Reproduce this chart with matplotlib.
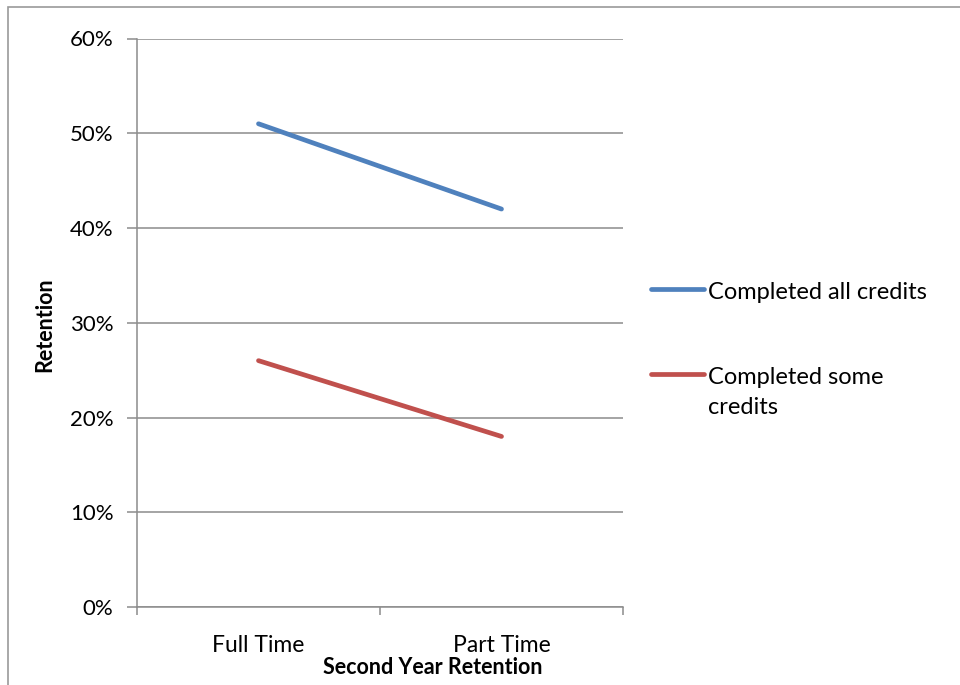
import matplotlib.pyplot as plt
from matplotlib.lines import Line2D
from matplotlib.patches import Rectangle
from matplotlib.ticker import FuncFormatter, FixedLocator

plt.rcParams['font.family'] = ['Lato', 'DejaVu Sans']

categories = ["Full Time", "Part Time"]
all_credits = [51, 42]
some_credits = [26, 18]
series_names = ["Completed all credits", "Completed some\ncredits"]
colors = ["#4F81BD", "#C0504D"]

W, H = 960, 685
fig = plt.figure(figsize=(W / 100, H / 100), dpi=100)

# outer chart frame
fig.add_artist(Rectangle((8 / W, -0.1), 1.2, 1 - 7 / H + 0.1, transform=fig.transFigure,
                         fill=False, edgecolor="#9a9a9a", linewidth=1.2))

ax = fig.add_axes([137 / W, 1 - 607 / H, (623 - 137) / W, (607 - 38.5) / H])

xpos = [0.5, 1.5]
for vals, c in zip([all_credits, some_credits], colors):
    ax.plot(xpos, vals, color=c, linewidth=3.4, solid_capstyle="round")

ax.set_xlim(0, 2)
ax.set_ylim(0, 60)
ax.set_yticks(range(0, 61, 10))
ax.yaxis.set_major_formatter(FuncFormatter(lambda v, p: f"{int(v)}%"))
ax.grid(axis="y", color="#8c8c8c", linewidth=1.1)
ax.set_axisbelow(True)

ax.set_xticks(xpos)
ax.set_xticklabels(categories)
ax.xaxis.set_minor_locator(FixedLocator([0, 1, 2]))
ax.tick_params(axis="x", which="major", length=0, pad=20, labelsize=16.5)
ax.tick_params(axis="x", which="minor", length=6, color="#8c8c8c", width=1.1, direction="out")
ax.tick_params(axis="y", length=7, color="#8c8c8c", width=1.1, pad=10, labelsize=16)

for s in ["top", "right"]:
    ax.spines[s].set_visible(False)
for s in ["left", "bottom"]:
    ax.spines[s].set_color("#8c8c8c")
    ax.spines[s].set_linewidth(1.1)

fig.text(45 / W, 1 - 325 / H, "Retention", rotation=90, ha="center", va="center",
         fontsize=15.5, fontweight="bold")
fig.text(433 / W, 1 - 668 / H, "Second Year Retention", ha="center", va="center",
         fontsize=15.5, fontweight="bold")

# legend drawn beside the plot area
for name, c, ly in zip(series_names, colors, [289, 374]):
    fig.add_artist(Line2D([651 / W, 704 / W], [1 - ly / H, 1 - ly / H], transform=fig.transFigure,
                          color=c, linewidth=3.4, solid_capstyle="round"))
    fig.text(708 / W, 1 - (ly - 7) / H, name, ha="left", va="top", fontsize=17,
             linespacing=1.5)

fig.savefig("out.png", dpi=100)
